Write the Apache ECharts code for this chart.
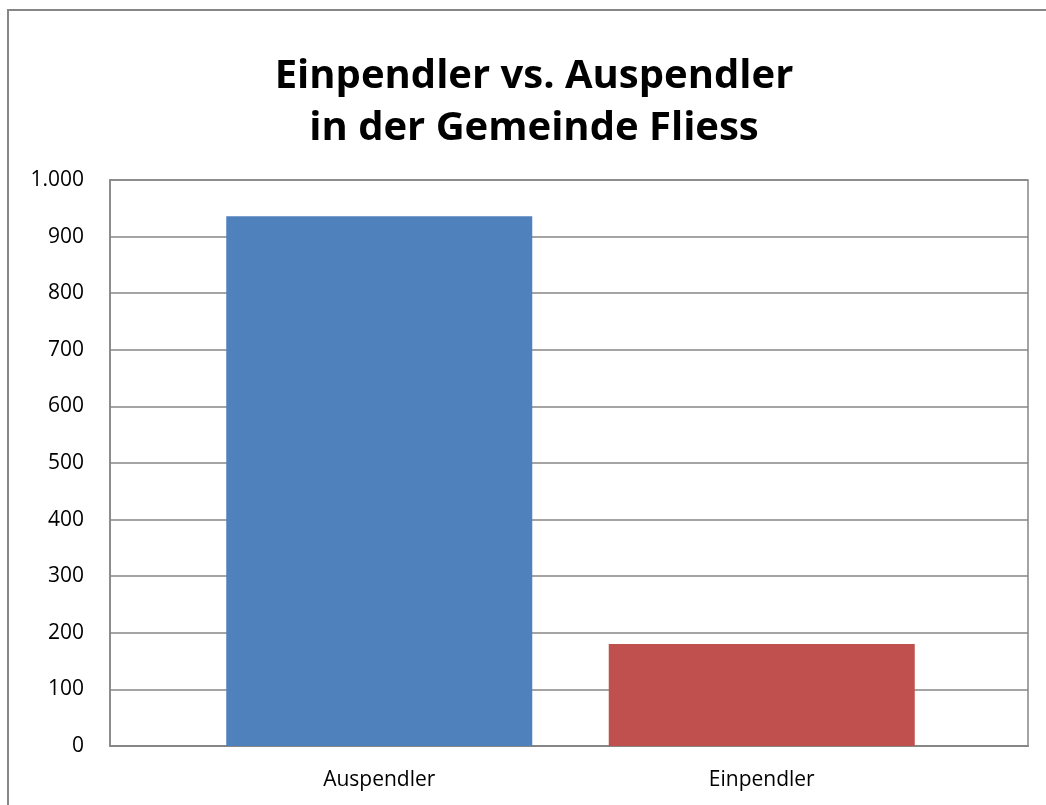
<!DOCTYPE html>
<html>
<head>
<meta charset="utf-8">
<script src="https://cdn.jsdelivr.net/npm/echarts@6/dist/echarts.min.js"></script>
<style>
  html, body { margin: 0; padding: 0; background: #fff; }
  #chart { width: 1046px; height: 805px; }
</style>
</head>
<body>
<div id="chart"></div>
<script>
// data
const categories = ['Auspendler', 'Einpendler']
const values = [936, 180]
const barColors = ['#4F81BD', '#C0504D']
const titleLines = ['Einpendler vs. Auspendler', 'in der Gemeinde Fliess']

const chart = echarts.init(document.getElementById('chart'), null, { renderer: 'canvas' })

const fmt = v => v >= 1000 ? String(v).replace(/(\d)(?=(\d{3})+$)/g, '$1.') : String(v)
const labelFont = '"Open Sans", Lato, sans-serif'

chart.setOption({
  animation: false,
  title: {
    text: titleLines.join('\n'),
    left: 529,
    textAlign: 'center',
    top: 46,
    textStyle: {
      fontFamily: labelFont,
      fontSize: 40,
      fontWeight: 'bold',
      color: '#000',
      lineHeight: 52
    }
  },
  graphic: [{
    type: 'rect',
    shape: { x: 8, y: 10, width: 1200, height: 1000 },
    style: { fill: 'none', stroke: '#868686', lineWidth: 2 },
    silent: true
  }],
  grid: [
    // frame, gridlines and value labels
    { left: 110, right: 18, top: 180, bottom: 59, show: true, borderColor: '#868686', borderWidth: 1.5 },
    // bars sit in a narrower band, centred in the frame
    { left: 188, right: 93, top: 180, bottom: 59 }
  ],
  xAxis: [
    {
      gridIndex: 0, type: 'category', data: [''],
      axisLine: { lineStyle: { color: '#868686', width: 2 } },
      axisTick: { show: false }, axisLabel: { show: false }
    },
    {
      gridIndex: 1, type: 'category', data: categories,
      axisLine: { show: false }, axisTick: { show: false },
      axisLabel: { color: '#000', fontSize: 21, margin: 24, fontFamily: labelFont }
    }
  ],
  yAxis: [
    {
      gridIndex: 0, type: 'value', min: 0, max: 1000, interval: 100,
      axisLine: { show: true, lineStyle: { color: '#868686', width: 1.5 } },
      axisTick: { show: false },
      splitLine: { lineStyle: { color: '#868686', width: 1.5 } },
      axisLabel: { color: '#000', fontSize: 21, margin: 26, formatter: fmt, fontFamily: labelFont }
    },
    {
      gridIndex: 1, type: 'value', min: 0, max: 1000, interval: 100, show: false
    }
  ],
  series: [{
    type: 'bar',
    xAxisIndex: 1, yAxisIndex: 1,
    data: values.map((v, i) => ({ value: v, itemStyle: { color: barColors[i] } })),
    barWidth: '80%'
  }]
})
</script>
</body>
</html>
